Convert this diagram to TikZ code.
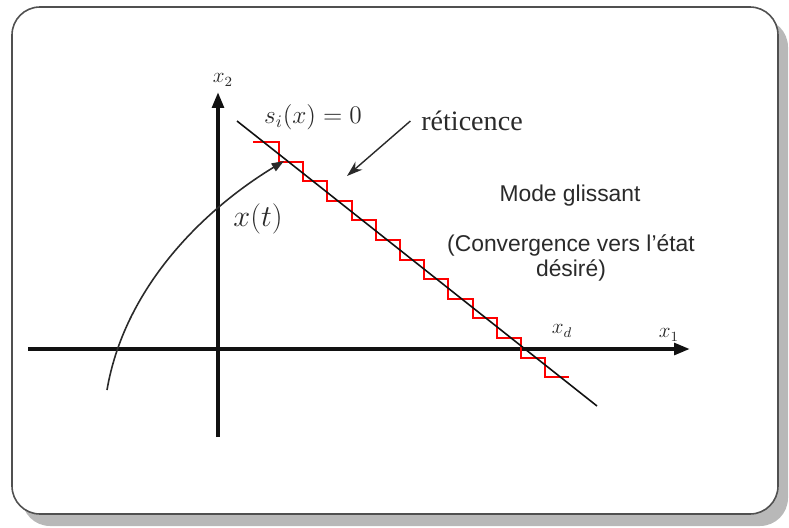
\documentclass[tikz,border=0pt]{standalone}
\usepackage{fontspec}
\setmainfont{Liberation Serif}
\setsansfont{Liberation Sans}
\usetikzlibrary{arrows.meta,positioning}
\definecolor{FrameGray}{HTML}{505050}
\definecolor{ShadowGray}{HTML}{B8B8B8}
\definecolor{StepRed}{HTML}{FF0000}
\definecolor{InkDark}{HTML}{111111}
\definecolor{TextDark}{HTML}{2A2A2A}

\begin{document}
\begin{tikzpicture}[x=0.02cm,y=-0.02cm,
  axis/.style={InkDark,line width=2.2pt,-{Triangle[length=9pt,width=6.5pt]}},
  surface/.style={InkDark,line width=0.9pt},
  steps/.style={StepRed,line width=1.1pt,line join=miter},
  traj/.style={TextDark,line width=0.9pt,-{Triangle[length=7pt,width=5pt]}},
  note/.style={TextDark,line width=0.8pt,-{Stealth[length=9pt,width=6pt]}},
  lbl/.style={text=TextDark,inner sep=1pt}]
  \useasboundingbox (0,0) rectangle (789,528);
  \fill[ShadowGray,rounded corners=0.56cm] (22,19) rectangle (788,526);
  \fill[white,rounded corners=0.56cm] (12,7) rectangle (778,514);
  \draw[FrameGray,rounded corners=0.56cm,line width=0.9pt] (12,7) rectangle (778,514);

  % axes
  \coordinate (x1w) at (28,349);
  \coordinate (x1e) at (690,349);
  \coordinate (x2s) at (218,437);
  \coordinate (x2n) at (218,92);
  \draw[axis] (x1w) -- (x1e);
  \draw[axis] (x2s) -- (x2n);
  \node[lbl,font=\fontsize{12}{14}\selectfont] (lx2) at (223,80) {$x_2$};
  \node[lbl,font=\fontsize{12}{14}\selectfont] (lx1) at (669,335) {$x_1$};
  \node[lbl,font=\fontsize{12}{14}\selectfont] (lxd) at (562,331) {$x_d$};

  % chattering around s_i(x)=0
  \draw[steps] (253,142) -- (279,142)
    \foreach \k in {1,...,12} { -- (279+\k*24.2-24.2,142+\k*19.6) -- (279+\k*24.2,142+\k*19.6) };
  \coordinate (sA) at (237,121);
  \coordinate (sB) at (597,406);
  \draw[surface] (sA) -- (sB);
  \node[lbl,font=\fontsize{14.5}{16}\selectfont] (ls) at (313,117) {$s_i(x)=0$};

  % trajectory x(t)
  \coordinate (x0) at (107,390);
  \coordinate (hit) at (284,161);
  \draw[traj] (x0) .. controls (124,290) and (200,212) .. (hit);
  \node[lbl,font=\fontsize{17}{19}\selectfont] (lxt) at (258,219) {$x(t)$};

  % chattering note
  \node[text=TextDark,font=\fontsize{16}{18}\selectfont,inner sep=6pt] (ret) at (472,121) {réticence};
  \coordinate (retTip) at (347,176);
  \draw[note] (ret.west) -- (retTip);

  \node[text=TextDark,font=\sffamily\fontsize{13}{15}\selectfont] (mode) at (570,196) {Mode glissant};
  \node[text=TextDark,font=\sffamily\fontsize{13}{14.5}\selectfont,align=center] (conv) at (571,258)
    {(Convergence vers l’état\\ désiré)};
\end{tikzpicture}
\end{document}
